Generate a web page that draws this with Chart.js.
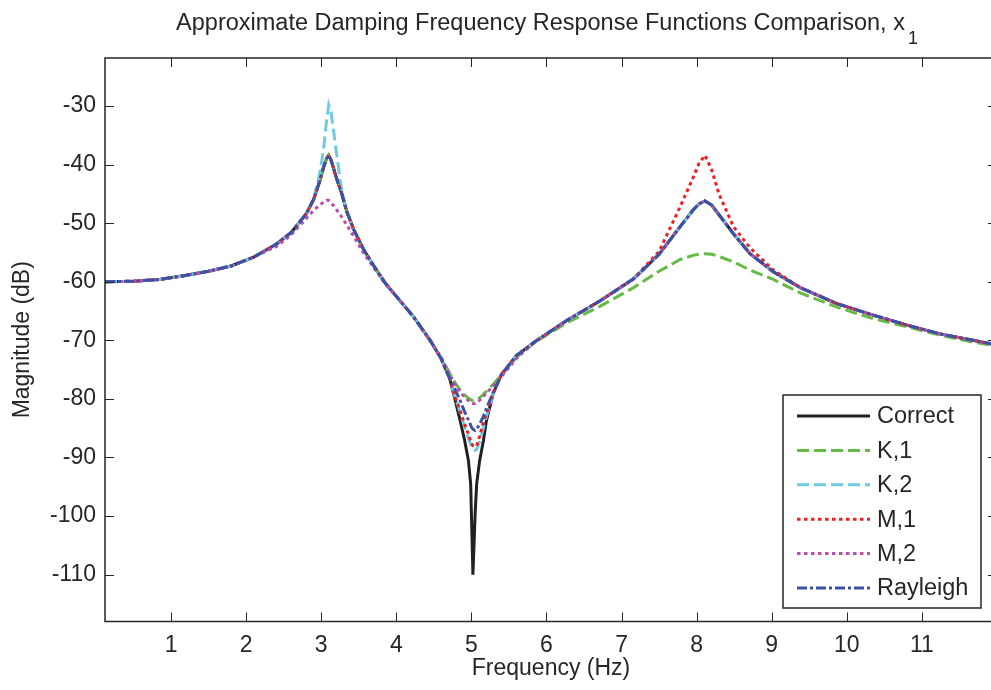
<!DOCTYPE html>
<html>
<head>
<meta charset="utf-8">
<script src="https://cdn.jsdelivr.net/npm/chart.js@4.4.1/dist/chart.umd.min.js"></script>
<style>
html, body { margin: 0; padding: 0; background: #fff; overflow: hidden; }
#wrap { position: relative; width: 1000px; height: 690px; }
</style>
</head>
<body>
<div id="wrap"><canvas id="frfChart"></canvas></div>
<script>
// frequency grid (Hz)
const freq = [0.12, 0.5, 0.85, 1.2, 1.5, 1.8, 2.1, 2.4, 2.6, 2.8,
  2.9, 2.98, 3.03, 3.07, 3.1, 3.13, 3.17, 3.21, 3.27, 3.34,
  3.43, 3.56, 3.7, 3.85, 4.0, 4.23, 4.45, 4.6, 4.71, 4.78,
  4.85, 4.91, 4.96, 4.99, 5.0, 5.02, 5.05, 5.07, 5.11, 5.16,
  5.2, 5.29, 5.4, 5.6, 5.85, 6.27, 6.71, 7.16, 7.5, 7.78,
  7.95, 8.03, 8.11, 8.2, 8.3, 8.49, 8.71, 9.02, 9.38, 9.86,
  10.35, 10.8, 11.24, 11.68, 12.0];

// magnitudes (dB)
const correct = [-60.0, -59.9, -59.6, -58.9, -58.2, -57.3, -55.8, -53.6, -51.6, -48.4,
  -45.9, -42.8, -40.5, -39.0, -38.4, -39.2, -40.9, -42.6, -44.8, -48.0,
  -51.0, -54.4, -57.3, -60.2, -62.5, -66.0, -70.0, -73.2, -76.5, -80.0,
  -83.7, -87.1, -90.5, -94.5, -99.6, -110.0, -99.5, -94.5, -90.5, -87.1,
  -83.7, -79.1, -75.8, -72.6, -70.2, -66.6, -63.3, -59.5, -55.3, -50.6,
  -47.8, -46.7, -46.2, -46.9, -48.6, -51.8, -55.2, -58.3, -61.0, -63.7,
  -65.7, -67.4, -68.9, -70.0, -70.8];

const k1 = [-60.0, -59.9, -59.6, -58.9, -58.2, -57.3, -55.8, -53.6, -51.6, -48.4,
  -45.9, -42.8, -40.5, -39.0, -38.4, -39.2, -40.9, -42.6, -44.8, -48.0,
  -51.0, -54.4, -57.3, -60.2, -62.5, -66.0, -70.0, -73.0, -75.6, -77.2,
  -78.5, -79.3, -79.9, -80.1, -80.2, -80.3, -80.3, -80.2, -79.8, -79.2,
  -78.7, -77.5, -75.9, -72.9, -70.3, -67.0, -64.2, -61.0, -58.2, -56.2,
  -55.5, -55.3, -55.2, -55.3, -55.7, -56.6, -58.0, -59.6, -61.9, -64.3,
  -66.3, -67.7, -69.1, -70.3, -71.0];

const k2 = [-60.0, -59.9, -59.6, -58.9, -58.2, -57.3, -55.8, -53.6, -51.6, -48.4,
  -45.9, -41.5, -37.5, -32.6, -29.8, -31.0, -34.8, -38.7, -44.2, -48.0,
  -51.0, -54.4, -57.3, -60.2, -62.5, -66.0, -70.0, -73.2, -76.5, -79.6,
  -82.3, -84.8, -86.7, -87.7, -88.1, -88.5, -88.8, -88.6, -87.3, -85.0,
  -83.0, -79.2, -75.8, -72.6, -70.2, -66.6, -63.3, -59.5, -55.3, -50.6,
  -47.8, -46.7, -46.2, -46.9, -48.6, -51.8, -55.2, -58.3, -61.0, -63.7,
  -65.7, -67.4, -68.9, -70.0, -70.8];

const m1 = [-60.0, -59.9, -59.6, -58.9, -58.2, -57.3, -55.8, -53.6, -51.6, -48.4,
  -45.9, -42.8, -40.5, -39.0, -38.4, -39.2, -40.9, -42.6, -44.8, -48.0,
  -51.0, -54.4, -57.3, -60.2, -62.5, -66.0, -70.0, -73.2, -76.5, -79.6,
  -82.0, -84.3, -86.0, -87.2, -87.6, -88.0, -88.2, -88.0, -86.3, -84.0,
  -82.5, -79.0, -75.8, -72.6, -70.2, -66.6, -63.3, -59.5, -54.8, -47.2,
  -42.3, -39.8, -38.4, -40.9, -45.1, -50.6, -54.2, -58.0, -61.0, -63.7,
  -65.7, -67.4, -68.9, -70.0, -70.8];

const m2 = [-60.0, -59.9, -59.6, -58.9, -58.2, -57.3, -55.8, -54.0, -52.0, -49.2,
  -47.8, -46.9, -46.4, -46.1, -46.1, -46.5, -47.1, -47.8, -48.9, -50.3,
  -52.2, -55.0, -57.6, -60.3, -62.5, -66.0, -70.0, -73.0, -75.8, -77.5,
  -78.8, -79.7, -80.3, -80.6, -80.7, -80.8, -80.8, -80.6, -80.2, -79.6,
  -79.0, -77.8, -76.2, -73.1, -70.2, -66.6, -63.3, -59.5, -55.3, -50.6,
  -47.8, -46.7, -46.2, -46.9, -48.6, -51.8, -55.2, -58.3, -61.0, -63.7,
  -65.7, -67.4, -68.9, -70.0, -70.8];

const rayleigh = [-60.0, -59.9, -59.6, -58.9, -58.2, -57.3, -55.8, -53.6, -51.6, -48.4,
  -45.9, -42.8, -40.5, -39.0, -38.4, -39.2, -40.9, -42.6, -44.8, -48.0,
  -51.0, -54.4, -57.3, -60.2, -62.5, -66.0, -70.0, -73.2, -76.5, -78.3,
  -80.3, -82.2, -83.6, -84.5, -84.8, -85.2, -85.4, -85.2, -84.3, -83.0,
  -81.6, -78.9, -75.9, -72.6, -70.2, -66.6, -63.3, -59.5, -55.3, -50.6,
  -47.8, -46.7, -46.2, -46.9, -48.6, -51.8, -55.2, -58.3, -61.0, -63.7,
  -65.7, -67.4, -68.9, -70.0, -70.8];

const seriesNames = ['Correct', 'K,1', 'K,2', 'M,1', 'M,2', 'Rayleigh'];
const xTicks = [1, 2, 3, 4, 5, 6, 7, 8, 9, 10, 11];
const yTicks = [-110, -100, -90, -80, -70, -60, -50, -40, -30];

const FONT = '"Liberation Sans", Arial, sans-serif';
const INK = '#262626';

const styles = [
    { color: '#231f20', dash: [] },
    { color: '#66bb47', dash: [12, 5] },
    { color: '#6fcbe0', dash: [12, 5] },
    { color: '#ee2026', dash: [3.5, 3.5] },
    { color: '#b94fab', dash: [3.5, 3.5] },
    { color: '#3a51a8', dash: [10, 3, 3, 3] }
];

const values = [correct, k1, k2, m1, m2, rayleigh];

const datasets = values.map((arr, i) => ({
    label: seriesNames[i],
    data: arr.map((v, j) => ({ x: freq[j], y: v })),
    borderColor: styles[i].color,
    borderDash: styles[i].dash,
    borderWidth: 3,
    pointRadius: 0,
    tension: 0,
    fill: false,
    order: values.length - i
}));

// box + inward ticks, matlab style
const framePlugin = {
    id: 'frame',
    afterDatasetsDraw(chart) {
        const { ctx, chartArea: a, scales } = chart;
        const tl = 9;
        ctx.save();
        ctx.strokeStyle = INK;
        ctx.lineWidth = 1.5;
        ctx.setLineDash([]);
        ctx.strokeRect(a.left, a.top, a.right - a.left, a.bottom - a.top);
        ctx.lineWidth = 1;
        ctx.beginPath();
        xTicks.forEach(v => {
            const px = Math.round(scales.x.getPixelForValue(v)) + 0.5;
            ctx.moveTo(px, a.bottom); ctx.lineTo(px, a.bottom - tl);
            ctx.moveTo(px, a.top); ctx.lineTo(px, a.top + tl);
        });
        yTicks.forEach(v => {
            const py = Math.round(scales.y.getPixelForValue(v)) + 0.5;
            ctx.moveTo(a.left, py); ctx.lineTo(a.left + tl, py);
            ctx.moveTo(a.right, py); ctx.lineTo(a.right - tl, py);
        });
        ctx.stroke();
        ctx.restore();
    }
};

// title with subscript
const titlePlugin = {
    id: 'subTitle',
    afterDraw(chart) {
        const ctx = chart.ctx;
        const a = chart.chartArea;
        const main = 'Approximate Damping Frequency Response Functions Comparison, x';
        const sub = '1';
        ctx.save();
        ctx.fillStyle = INK;
        ctx.textBaseline = 'alphabetic';
        ctx.font = '23.5px ' + FONT;
        const w1 = ctx.measureText(main).width;
        ctx.font = '18px ' + FONT;
        const w2 = ctx.measureText(sub).width;
        const x0 = (a.left + a.right) / 2 - (w1 + w2 + 3) / 2 - 4;
        ctx.font = '23.5px ' + FONT;
        ctx.fillText(main, x0, 30);
        ctx.font = '18px ' + FONT;
        ctx.fillText(sub, x0 + w1 + 3, 44);
        ctx.restore();
    }
};

const legendPlugin = {
    id: 'boxLegend',
    afterDraw(chart) {
        const ctx = chart.ctx;
        const box = { left: 783, top: 395, right: 981, bottom: 608 };
        ctx.save();
        ctx.fillStyle = '#fff';
        ctx.fillRect(box.left, box.top, box.right - box.left, box.bottom - box.top);
        ctx.strokeStyle = INK;
        ctx.lineWidth = 1.5;
        ctx.setLineDash([]);
        ctx.strokeRect(box.left, box.top, box.right - box.left, box.bottom - box.top);
        ctx.font = '23.5px ' + FONT;
        ctx.textBaseline = 'middle';
        chart.data.datasets.forEach((ds, i) => {
            const y = 416 + i * 34.4;
            ctx.strokeStyle = ds.borderColor;
            ctx.lineWidth = 3;
            ctx.setLineDash(ds.borderDash);
            ctx.beginPath();
            ctx.moveTo(797, y);
            ctx.lineTo(870, y);
            ctx.stroke();
            ctx.fillStyle = INK;
            ctx.fillText(ds.label, 877, y + 1);
        });
        ctx.restore();
    }
};

const ctx = document.getElementById('frfChart').getContext('2d');
new Chart(ctx, {
    type: 'line',
    data: { datasets: datasets },
    options: {
        responsive: true,
        maintainAspectRatio: false,
        animation: false,
        layout: { padding: { left: 0, top: 58, right: 3, bottom: 0 } },
        plugins: {
            legend: { display: false },
            tooltip: { enabled: false }
        },
        scales: {
            x: {
                type: 'linear',
                min: 0.12,
                max: 12,
                afterBuildTicks: s => { s.ticks = xTicks.map(v => ({ value: v })); },
                afterFit: s => { s.height = 68.5; },
                grid: { display: false, drawTicks: false },
                border: { display: false },
                ticks: {
                    color: INK, autoSkip: false, maxRotation: 0, padding: 10,
                    font: { family: FONT, size: 23 },
                    callback: v => String(v)
                },
                title: {
                    display: true, text: 'Frequency (Hz)', color: INK,
                    font: { family: FONT, size: 23 },
                    padding: { top: 0, bottom: 8 }
                }
            },
            y: {
                type: 'linear',
                min: -118,
                max: -21.8,
                afterBuildTicks: s => { s.ticks = yTicks.map(v => ({ value: v })); },
                afterFit: s => { s.width = 105; },
                grid: { display: false, drawTicks: false },
                border: { display: false },
                ticks: {
                    color: INK, padding: 9,
                    font: { family: FONT, size: 23 },
                    callback: v => String(v)
                },
                title: {
                    display: true, text: 'Magnitude (dB)', color: INK,
                    font: { family: FONT, size: 23 },
                    padding: { top: 9, bottom: 0 }
                }
            }
        }
    },
    plugins: [framePlugin, titlePlugin, legendPlugin]
});
</script>
</body>
</html>
